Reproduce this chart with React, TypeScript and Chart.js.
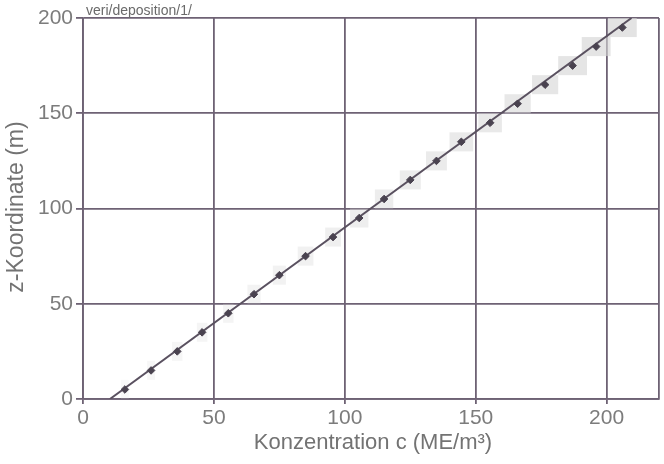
import React, { useEffect, useRef } from "react";
import { Chart, registerables } from "chart.js";

Chart.register(...registerables);

// Measured heights (m)
const zValues = [5, 15, 25, 35, 45, 55, 65, 75, 85, 95, 105, 115, 125, 135, 145, 155, 165, 175, 185, 195];
// Measured concentrations (ME/m³)
const concValues = [16, 26, 36, 45.5, 55.5, 65.3, 75, 85, 95.5, 105.5, 115, 125, 135, 144.5, 155.5, 166, 176.5, 187, 196, 206];
// Uncertainty half-widths of each measurement
const concErr = [1.5, 1.5, 2, 2, 2, 2.5, 2.5, 3, 3, 3.5, 3.5, 4, 4, 4.5, 4.5, 5, 5, 5.5, 5.5, 5.5];
const zErr = [5, 5, 5, 5, 5, 5, 5, 5, 5, 5, 5, 5, 5, 5, 5, 5, 5, 5, 5, 5];
// Reference solution (straight line)
const refConc = [10.3, 209.5];
const refZ = [0, 200];

const xTicks = [0, 50, 100, 150, 200];
const yTicks = [0, 50, 100, 150, 200];

const FONT = "'Liberation Sans', Arial, sans-serif";

const errorBoxes = {
  id: "errorBoxes",
  beforeDatasetsDraw(chart: any) {
    const { ctx, scales, chartArea } = chart;
    const xs = scales.x;
    const ys = scales.y;
    ctx.save();
    ctx.beginPath();
    ctx.rect(chartArea.left, chartArea.top, chartArea.right - chartArea.left, chartArea.bottom - chartArea.top);
    ctx.clip();
    zValues.forEach((z, i) => {
      const x0 = xs.getPixelForValue(concValues[i] - concErr[i]);
      const x1 = xs.getPixelForValue(concValues[i] + concErr[i]);
      const y0 = ys.getPixelForValue(z + zErr[i]);
      const y1 = ys.getPixelForValue(z - zErr[i]);
      const a = 0.15 + 0.5 * (i / (zValues.length - 1));
      ctx.fillStyle = `rgba(212,212,212,${a})`;
      ctx.fillRect(x0, y0, x1 - x0, y1 - y0);
    });
    ctx.restore();
  },
};

const labels = {
  id: "labels",
  afterDraw(chart: any) {
    const { ctx, chartArea } = chart;
    ctx.save();
    ctx.fillStyle = "#6a6a6a";
    ctx.font = `14px ${FONT}`;
    ctx.textAlign = "left";
    ctx.textBaseline = "alphabetic";
    ctx.fillText("veri/deposition/1/", chartArea.left + 3, chartArea.top - 3);

    ctx.fillStyle = "#737373";
    ctx.font = `22px ${FONT}`;
    ctx.textAlign = "center";
    ctx.textBaseline = "middle";
    ctx.fillText("Konzentration c (ME/m³)", (chartArea.left + chartArea.right) / 2 + 2, 443);

    ctx.font = `23px ${FONT}`;
    ctx.translate(17, 207);
    ctx.rotate(-Math.PI / 2);
    ctx.fillText("z-Koordinate (m)", 0, 0);
    ctx.restore();
  },
};

export default function App() {
  const ref = useRef<HTMLCanvasElement>(null);

  useEffect(() => {
    if (!ref.current) return;
    const gridColor = "#6e6274";
    const chart = new Chart(ref.current, {
      type: "scatter",
      data: {
        datasets: [
          {
            type: "line",
            label: "Referenz",
            data: refConc.map((c, i) => ({ x: c, y: refZ[i] })),
            borderColor: "#5a5160",
            borderWidth: 2,
            pointRadius: 0,
            fill: false,
            order: 2,
          },
          {
            label: "Messung",
            data: concValues.map((c, i) => ({ x: c, y: zValues[i] })),
            pointStyle: "rectRot",
            pointRadius: 3.8,
            backgroundColor: "#4a4350",
            borderColor: "#4a4350",
            borderWidth: 1,
            order: 1,
          },
        ],
      },
      options: {
        responsive: false,
        animation: false,
        layout: { padding: { top: 18, right: 2, left: 0, bottom: 0 } },
        plugins: { legend: { display: false }, tooltip: { enabled: false }, title: { display: false } },
        scales: {
          x: {
            type: "linear",
            min: 0,
            max: 220,
            afterBuildTicks: (s: any) => {
              s.ticks = [...xTicks, 220].map((v) => ({ value: v }));
            },
            afterFit: (s: any) => {
              s.height = 65;
            },
            ticks: {
              color: "#7c7c7c",
              font: { family: FONT, size: 21 },
              padding: 2,
              callback: (v: any) => (xTicks.includes(Number(v)) ? String(v) : ""),
            },
            grid: {
              color: gridColor,
              lineWidth: 1.8,
              tickLength: 5,
              tickColor: (c: any) => (c.tick && xTicks.includes(c.tick.value) ? gridColor : "rgba(0,0,0,0)"),
            },
            border: { color: gridColor, width: 1.8 },
          },
          y: {
            type: "linear",
            min: 0,
            max: 200,
            afterBuildTicks: (s: any) => {
              s.ticks = yTicks.map((v) => ({ value: v }));
            },
            afterFit: (s: any) => {
              s.width = 83;
            },
            ticks: {
              color: "#7c7c7c",
              font: { family: FONT, size: 21 },
              padding: 3,
            },
            grid: { color: gridColor, lineWidth: 1.8, tickLength: 7, tickColor: gridColor },
            border: { color: gridColor, width: 1.8 },
          },
        },
      },
      plugins: [errorBoxes, labels],
    });
    return () => chart.destroy();
  }, []);

  return (
    <div style={{ position: "fixed", left: 0, top: 0, width: 664, height: 464, background: "#fff" }}>
      <canvas ref={ref} width={664} height={464} />
    </div>
  );
}
